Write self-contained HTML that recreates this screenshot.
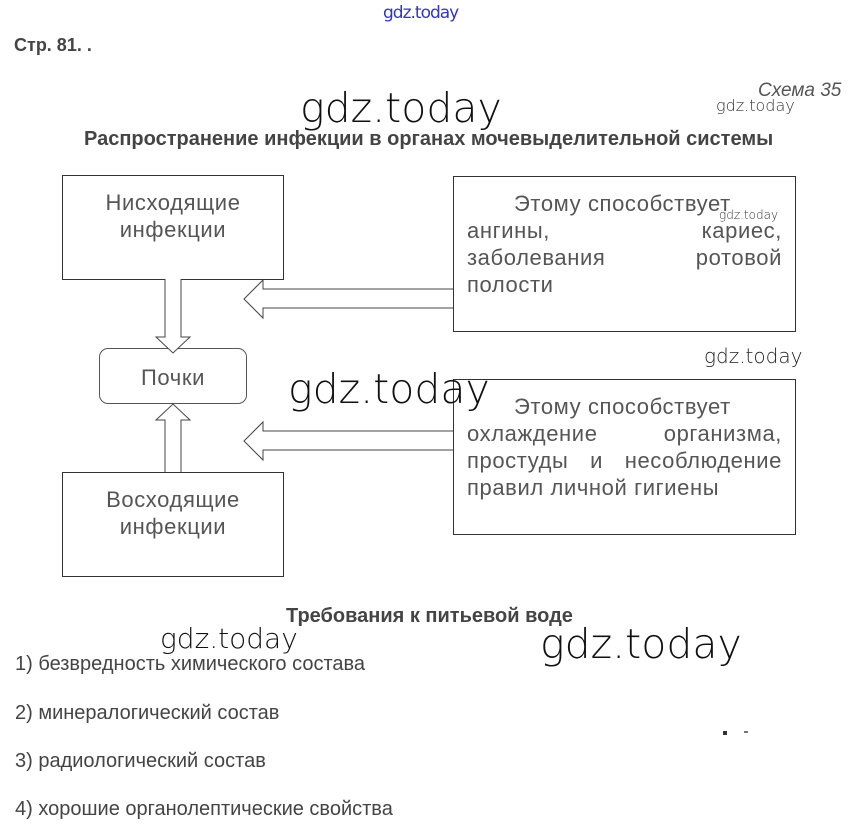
<!DOCTYPE html>
<html><head><meta charset="utf-8"><style>
body{margin:0;width:854px;height:836px;background:#fff;position:relative;overflow:hidden;font-family:"Liberation Sans","DejaVu Sans",sans-serif;color:#444}
.a{position:absolute;white-space:nowrap}
.box{position:absolute;border:1.3px solid #333;box-sizing:border-box}
.t{position:absolute;font-size:22px;letter-spacing:0.6px;color:#555;line-height:27px;white-space:nowrap}
.r{display:flex;justify-content:space-between}
.wm{position:absolute;font-family:"DejaVu Sans",sans-serif;color:#111;white-space:nowrap;font-weight:200}
</style></head><body>
<div class="a" style="left:383px;top:3px;font-size:17px;color:#33c;font-family:'DejaVu Sans';letter-spacing:-1px">gdz.today</div>
<div class="a" style="left:14px;top:35px;font-size:18px;font-weight:bold;color:#444">Стр. 81. .</div>
<div class="a" style="left:758px;top:80px;font-size:19px;font-style:italic;color:#555">Схема 35</div>
<div class="wm" style="left:716px;top:96px;font-size:16px;color:#333">gdz.today</div>
<div class="wm" style="left:300px;top:84px;font-size:41px">gdz.today</div>
<div class="a" style="left:84px;top:128px;font-size:20px;font-weight:bold;color:#444">Распространение инфекции в органах мочевыделительной системы</div>

<div class="box" style="left:62px;top:175px;width:222px;height:105px"></div>
<div class="t" style="left:62px;top:189px;width:222px;text-align:center">Нисходящие<br>инфекции</div>
<div class="box" style="left:62px;top:472px;width:222px;height:105px"></div>
<div class="t" style="left:62px;top:486px;width:222px;text-align:center">Восходящие<br>инфекции</div>
<div class="box" style="left:99px;top:348px;width:148px;height:56px;border-radius:9px;border-color:#555;border-width:1px"></div>
<div class="t" style="left:99px;top:364px;width:148px;text-align:center">Почки</div>

<svg style="position:absolute;left:0;top:0" width="854" height="836">
<g fill="#fff" stroke="#444" stroke-width="1">
<path d="M165 279 V337 H156 L173 353 L190 337 H181 V279"/>
<path d="M165 472 V420 H156 L173 404 L190 420 H181 V472"/>
<path d="M453 289 H263 V280 L244 299 L263 318 V308 H453"/>
<path d="M453 431 H263 V422 L244 441 L263 460 V450 H453"/>
</g></svg>

<div class="box" style="left:453px;top:176px;width:343px;height:156px"></div>
<div class="t" style="left:514px;top:190px">Этому способствует</div>
<div class="t r" style="left:467px;top:217px;width:315px"><span>ангины,</span><span>кариес,</span></div>
<div class="t r" style="left:467px;top:244px;width:315px"><span>заболевания</span><span>ротовой</span></div>
<div class="t" style="left:467px;top:271px">полости</div>
<div class="wm" style="left:719px;top:208px;font-size:12px;color:#333">gdz.today</div>
<div class="wm" style="left:704px;top:344px;font-size:20px;color:#222">gdz.today</div>

<div class="box" style="left:453px;top:379px;width:343px;height:156px"></div>
<div class="t" style="left:514px;top:393px">Этому способствует</div>
<div class="t r" style="left:467px;top:420px;width:315px"><span>охлаждение</span><span>организма,</span></div>
<div class="t r" style="left:467px;top:447px;width:315px"><span>простуды</span><span>и</span><span>несоблюдение</span></div>
<div class="t" style="left:467px;top:474px">правил личной гигиены</div>
<div class="wm" style="left:288px;top:365px;font-size:41px">gdz.today</div>

<div class="a" style="left:286px;top:605px;font-size:20px;font-weight:bold;color:#444">Требования к питьевой воде</div>
<div class="wm" style="left:160px;top:622px;font-size:28px">gdz.today</div>
<div class="wm" style="left:540px;top:620px;font-size:41px">gdz.today</div>
<div class="a" style="left:15px;top:653px;font-size:20px;color:#444">1) безвредность химического состава</div>
<div class="a" style="left:15px;top:702px;font-size:20px;color:#444">2) минералогический состав</div>
<div class="a" style="left:15px;top:750px;font-size:20px;color:#444">3) радиологический состав</div>
<div class="a" style="left:15px;top:798px;font-size:20px;color:#444">4) хорошие органолептические свойства</div>
<div class="a" style="left:723px;top:731px;width:4px;height:4px;background:#333"></div>
<div class="a" style="left:744px;top:731px;width:4px;height:2px;background:#777"></div>
</body></html>
